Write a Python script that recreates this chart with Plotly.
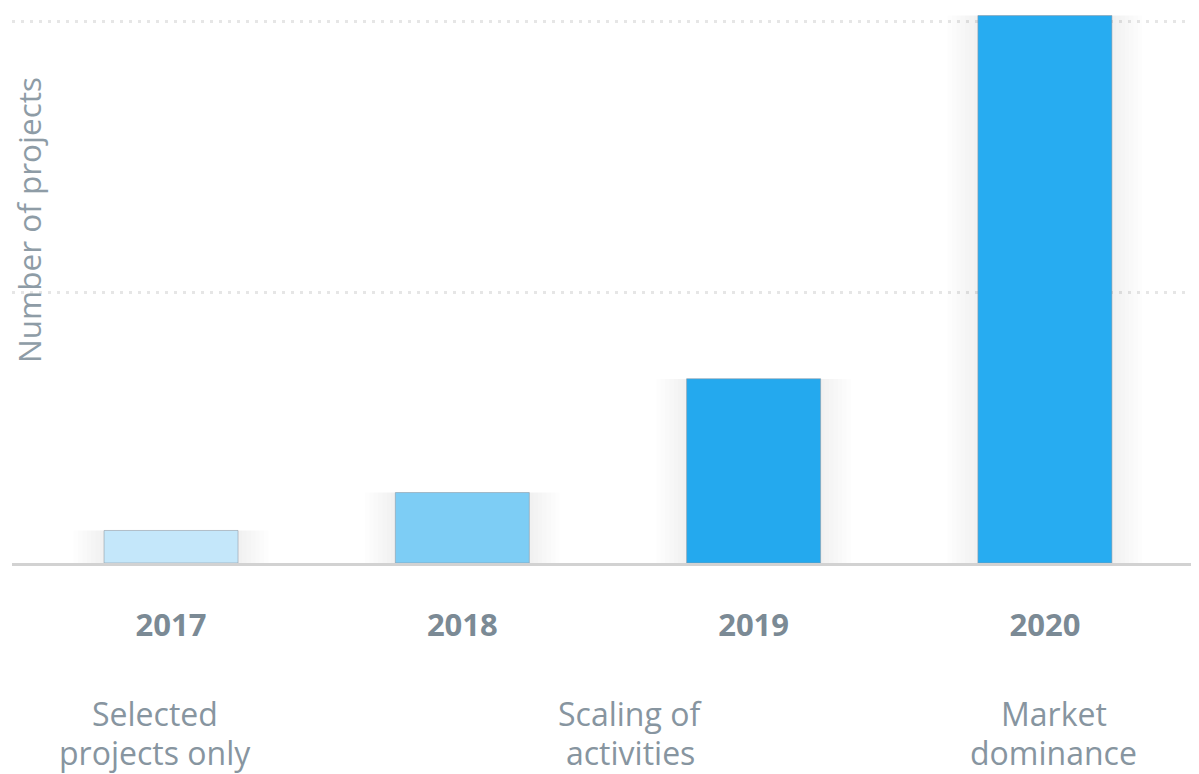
import plotly.graph_objects as go

years = ["2017", "2018", "2019", "2020"]
projects = [6, 13, 34, 101]
bar_colors = ["#c4e7fa", "#7dcdf5", "#24a9ee", "#27acf1"]
descriptions = [["Selected", "projects only"], ["Scaling of", "activities"], ["Market", "dominance"]]
desc_pos = [-0.055, 1.577, 3.03]
y_title = "Number of projects"

W, H = 1199, 774
OFF = 8  # page body offset
FONT = "Open Sans"
TXT = "#8795a0"

fig = go.Figure()

# soft shadow layers
n_sh = 7
for k in range(n_sh):
    fig.add_trace(go.Bar(
        x=list(range(len(years))), y=projects,
        width=0.46 + 0.03 * (n_sh - k),
        marker=dict(color="rgba(0,0,0,0.009)", line=dict(width=0)),
        hoverinfo="skip", showlegend=False,
    ))

fig.add_trace(go.Bar(
    x=list(range(len(years))), y=projects,
    width=0.46,
    marker=dict(color=bar_colors, line=dict(color="rgba(140,150,160,0.55)", width=1)),
    showlegend=False,
))

plot_left = 12 - OFF
plot_right = 1199 - OFF
base_y = 563 - OFF
fig.update_layout(
    width=W, height=H,
    margin=dict(l=plot_left, r=W - plot_right, t=0, b=H - base_y),
    barmode="overlay",
    paper_bgcolor="white", plot_bgcolor="white",
    font=dict(family=FONT, color=TXT),
    xaxis=dict(
        range=[-0.546, 3.529],
        tickmode="array", tickvals=list(range(len(years))),
        ticktext=[f"<b>{y}</b>" for y in years],
        tickfont=dict(size=31, color="#7b8a95", family=FONT),
        ticks="", ticklabelstandoff=33,
        showline=True, linecolor="#d2d2d2", linewidth=3,
        showgrid=False, zeroline=False, fixedrange=True,
    ),
    yaxis=dict(
        range=[0, 102.4],
        tickvals=[50, 100], showticklabels=False,
        showgrid=True, gridcolor="#e6e6e6", gridwidth=3, griddash="3px,6px",
        zeroline=False, showline=False, ticks="",
    ),
)

ann = []
for (l1, l2), xp in zip(descriptions, desc_pos):
    ann.append(dict(x=xp, xref="x", y=0, yref="paper", yshift=-150, text=l1,
                    showarrow=False, font=dict(size=32, color=TXT, family=FONT),
                    xanchor="center", yanchor="middle"))
    ann.append(dict(x=xp, xref="x", y=0, yref="paper", yshift=-189, text=l2,
                    showarrow=False, font=dict(size=32, color=TXT, family=FONT),
                    xanchor="center", yanchor="middle"))
ann.append(dict(x=(28 - 12) / (plot_right - plot_left + 0.0), xref="paper",
                y=1 - (220 - OFF) / base_y, yref="paper", text=y_title, textangle=-90,
                showarrow=False, font=dict(size=31.5, color="#8e9ca6", family=FONT),
                xanchor="center", yanchor="middle"))
fig.update_layout(annotations=ann)

fig.write_html("out.html")
